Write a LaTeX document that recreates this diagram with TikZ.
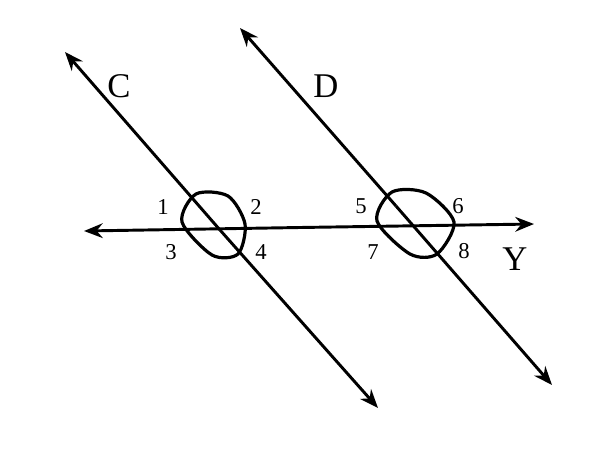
\documentclass[tikz,border=0pt]{standalone}
\usepackage{fontspec}
\setmainfont{Liberation Serif}
\usetikzlibrary{arrows.meta}
\begin{document}
\begin{tikzpicture}[x=0.75pt,y=-0.75pt,
  ln/.style={line width=2.2pt,-{Stealth[length=14pt,width=11pt]}},
  blob/.style={line width=2.4pt},
  num/.style={font=\fontsize{17}{17}\selectfont},
  big/.style={font=\fontsize{26}{26}\selectfont}]
\useasboundingbox (0,0) rectangle (600,450);
\coordinate (c1) at (65,52); \coordinate (c2) at (378,408);
\coordinate (d1) at (240,28); \coordinate (d2) at (552,385);
\coordinate (y1) at (84,231); \coordinate (y2) at (534,224);
\coordinate (m) at (300,227.5);
\draw[ln] (m) -- (y1);
\draw[ln] (m) -- (y2);
\coordinate (cm) at (220,230); \coordinate (dm) at (396,206);
\draw[ln] (cm) -- (c1); \draw[ln] (cm) -- (c2);
\draw[ln] (dm) -- (d1); \draw[ln] (dm) -- (d2);
\draw[blob] plot[smooth cycle] coordinates {(196,194) (228,196) (245,224) (238,254) (212,255) (182,222)};
\draw[blob] plot[smooth cycle] coordinates {(392,192) (426,193) (454,222) (437,254) (410,254) (377,221)};
\node[num] (n1) at (163,207) {1};
\node[num] (n2) at (256,207) {2};
\node[num] (n3) at (171,252) {3};
\node[num] (n4) at (261,252) {4};
\node[num] (n5) at (361,206) {5};
\node[num] (n6) at (458,206) {6};
\node[num] (n7) at (373,252) {7};
\node[num] (n8) at (464,251) {8};
\node[big] (C) at (119,86) {C};
\node[big] (D) at (326,86) {D};
\node[big] (Y) at (515,259) {Y};
\end{tikzpicture}
\end{document}
